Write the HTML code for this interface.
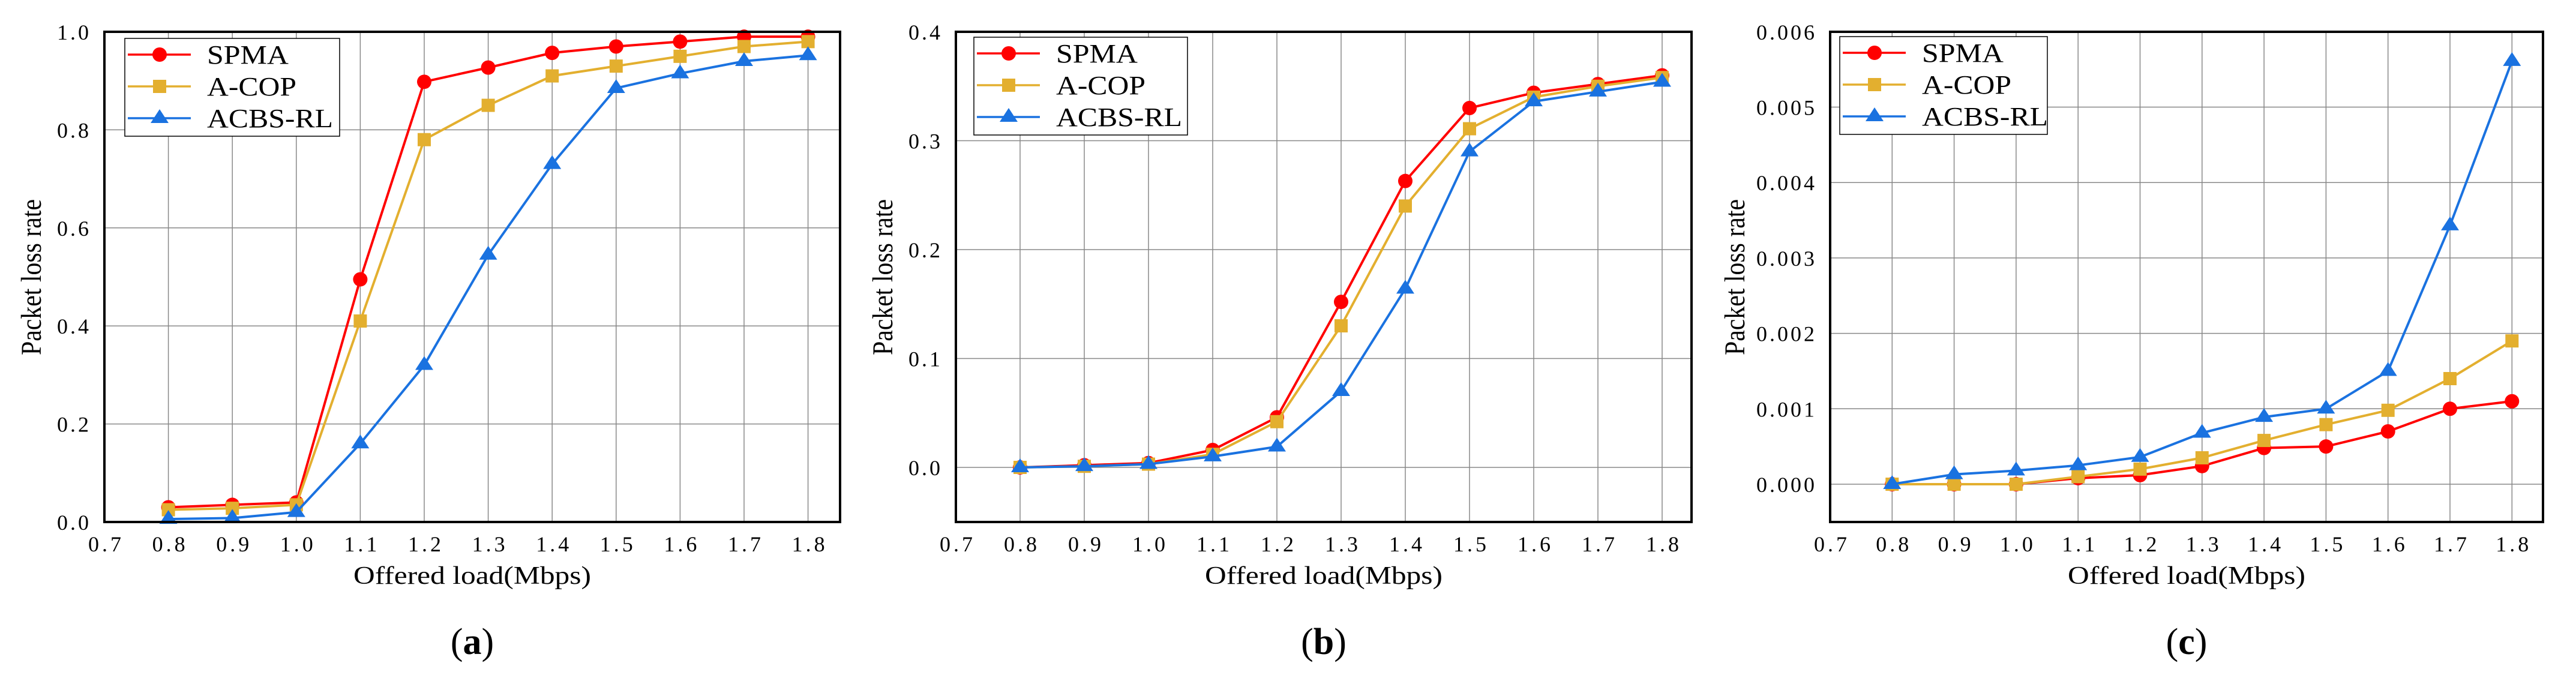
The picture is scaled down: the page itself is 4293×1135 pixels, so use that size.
<!DOCTYPE html>
<html><head><meta charset="utf-8">
<style>
html,body{margin:0;padding:0;background:#fff;}
svg{display:block;}
text{font-family:"Liberation Serif",serif;fill:#000;}
</style></head>
<body>
<svg id="fig" width="4293" height="1135" viewBox="0 0 4293 1135" xmlns="http://www.w3.org/2000/svg"></svg>
<script>
const xCats = [0.8,0.9,1.0,1.1,1.2,1.3,1.4,1.5,1.6,1.7,1.8];
const xTickLabels = ["0.7","0.8","0.9","1.0","1.1","1.2","1.3","1.4","1.5","1.6","1.7","1.8"];
const seriesNames = ["SPMA","A-COP","ACBS-RL"];

const aSPMA = [0.03,0.035,0.04,0.495,0.898,0.927,0.957,0.97,0.98,0.99,0.99];
const aACOP = [0.025,0.028,0.035,0.41,0.78,0.85,0.91,0.93,0.95,0.97,0.98];
const aACBS = [0.006,0.008,0.02,0.16,0.32,0.545,0.73,0.885,0.915,0.94,0.952];
const aYTicks = ["0.0","0.2","0.4","0.6","0.8","1.0"];

const bSPMA = [0,0.002,0.004,0.016,0.046,0.152,0.263,0.33,0.344,0.352,0.36];
const bACOP = [0,0.001,0.003,0.012,0.042,0.13,0.24,0.311,0.34,0.35,0.358];
const bACBS = [0,0.001,0.003,0.01,0.019,0.07,0.164,0.29,0.336,0.345,0.354];
const bYTicks = ["0.0","0.1","0.2","0.3","0.4"];

const cSPMA = [0,0,0,0.00008,0.00012,0.00024,0.00048,0.0005,0.0007,0.001,0.0011];
const cACOP = [0,0,0,0.0001,0.0002,0.00035,0.00058,0.00079,0.00098,0.0014,0.0019];
const cACBS = [0,0.00013,0.00018,0.00025,0.00036,0.00068,0.00089,0.001,0.0015,0.00343,0.00561];
const cYTicks = ["0.000","0.001","0.002","0.003","0.004","0.005","0.006"];

const NS = "http://www.w3.org/2000/svg";
const svg = document.getElementById('fig');
const COLORS = ["#ff0000","#e3af2f","#1a72e0"];
const LEG_W = [136,149,210];
function mk(tag, attrs, parent){
  const e = document.createElementNS(NS, tag);
  for (const k in attrs) e.setAttribute(k, attrs[k]);
  (parent||svg).appendChild(e);
  return e;
}
function marker(g, kind, cx, cy, color){
  let m;
  if (kind===0) m = mk('circle',{cx:cx,cy:cy,r:12,fill:color},g);
  else if (kind===1) m = mk('rect',{x:cx-11,y:cy-11,width:22,height:22,fill:color},g);
  else m = mk('polygon',{points:(cx)+','+(cy-15)+' '+(cx-15)+','+(cy+8)+' '+(cx+15)+','+(cy+8),fill:color},g);
  return m;
}

function chart(cfg){
  const g = mk('g',{});
  
  
  const L=cfg.left, R=cfg.right, T=53, B=870;
  const xs = v => L + (v-0.7)*cfg.xstep*10;
  const ys = v => cfg.y0 - v*cfg.yscale;
  const grid = mk('g',{},g);
  
  
  xCats.forEach(v=>{ mk('line',{x1:xs(v),x2:xs(v),y1:T,y2:B,stroke:'#888','stroke-width':1.5},grid); });
  cfg.yTicks.forEach(t=>{ const y=ys(parseFloat(t)); mk('line',{x1:L,x2:R,y1:y,y2:y,stroke:'#888','stroke-width':1.5},grid); });
  cfg.yTicks.forEach(t=>{
    const tx = mk('text',{x:L-22,y:ys(parseFloat(t))+13,'font-size':36,'text-anchor':'end','letter-spacing':'4'},g);
    
    
    tx.textContent = t;
  });
  xTickLabels.forEach(t=>{
    const tx = mk('text',{x:xs(parseFloat(t))+3,y:919,'font-size':36,'text-anchor':'middle','letter-spacing':'5'},g);
    
    
    tx.textContent = t;
  });
  cfg.series.forEach((arr,si)=>{
    const sg = mk('g',{},g);
    
    
    const pts = arr.map((v,i)=>xs(xCats[i])+','+ys(v)).join(' ');
    const pl = mk('polyline',{points:pts,fill:'none',stroke:COLORS[si],'stroke-width':4,'stroke-linejoin':'round'},sg);
    
    
    arr.forEach((v,i)=>{
      const m = marker(sg, si, xs(xCats[i]), ys(v), COLORS[si]);
      
      
    });
  });
  const fr = mk('rect',{x:L,y:T,width:R-L,height:B-T,fill:'none',stroke:'#000','stroke-width':4},g);
  
  
  const lg = mk('g',{},g);
  
  
  const lx=cfg.lx, ly=cfg.ly;
  mk('rect',{x:lx,y:ly,width:cfg.lw,height:163,fill:'#fff',stroke:'#000','stroke-width':1.5},lg);
  seriesNames.forEach((n,si)=>{
    const e = mk('g',{},lg);
    
    
    const cy = ly+27+si*53;
    mk('line',{x1:lx+5,x2:lx+110,y1:cy,y2:cy,stroke:COLORS[si],'stroke-width':3.5},e);
    marker(e, si, lx+58, cy, COLORS[si]);
    const t = mk('text',{x:lx+137,y:cy+15,'font-size':44,textLength:LEG_W[si],lengthAdjust:'spacingAndGlyphs'},e);
    t.textContent = n;
  });
  const xt = mk('text',{x:(L+R)/2-198,y:973,'font-size':42,textLength:396,lengthAdjust:'spacingAndGlyphs'},g);
  
  
  xt.textContent = 'Offered load(Mbps)';
  const ytx = cfg.ytx;
  const yt = mk('text',{x:ytx,y:462,'font-size':48,textLength:260,lengthAdjust:'spacingAndGlyphs',transform:'rotate(-90 '+ytx+' 462) translate(-130 0)'},g);
  
  
  yt.textContent = 'Packet loss rate';
  const sub = mk('text',{x:(L+R)/2,y:1090,'font-size':62,'text-anchor':'middle'},g);
  
  
  const p1 = mk('tspan',{},sub); p1.textContent='(';
  const p2 = mk('tspan',{'font-weight':'bold'},sub); p2.textContent=cfg.letter;
  const p3 = mk('tspan',{},sub); p3.textContent=')';
}

chart({name:'chart-a',left:174,right:1400,xstep:106.6,y0:870,yscale:817,yTicks:aYTicks,series:[aSPMA,aACOP,aACBS],lx:208,ly:64,lw:358,ytx:68,letter:'a'});
chart({name:'chart-b',left:1593,right:2819,xstep:107,y0:779,yscale:1815,yTicks:bYTicks,series:[bSPMA,bACOP,bACBS],lx:1623,ly:62,lw:356,ytx:1487,letter:'b'});
chart({name:'chart-c',left:3050,right:4238,xstep:103.3,y0:807,yscale:125700,yTicks:cYTicks,series:[cSPMA,cACOP,cACBS],lx:3066,ly:61,lw:346,ytx:2907,letter:'c'});
</script>
</body></html>
